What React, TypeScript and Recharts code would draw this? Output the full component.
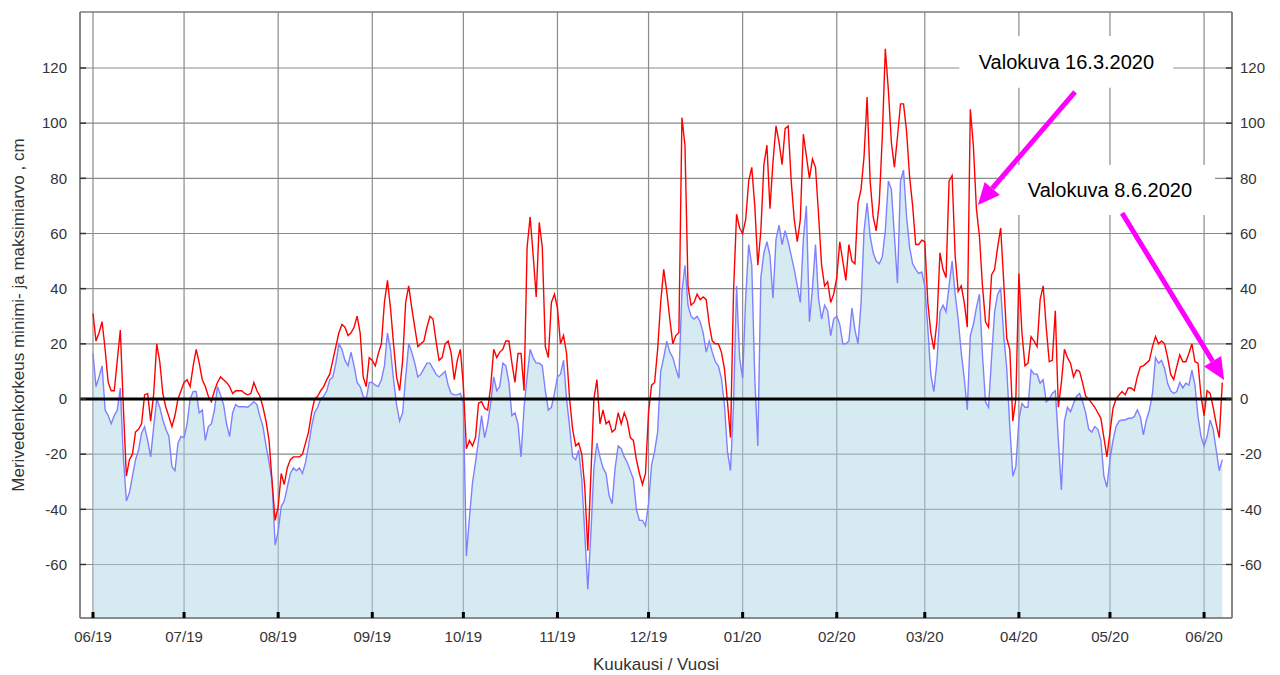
import React from 'react';
import {
  ComposedChart,
  Area,
  Line,
  XAxis,
  YAxis,
  CartesianGrid,
  ReferenceLine,
  ReferenceArea,
  Label,
} from 'recharts';

// Month ticks: day index counted from 1 June 2019
const monthTickDays = [0, 30, 61, 92, 122, 153, 183, 214, 245, 274, 305, 335, 366];
const monthTickLabels = ['06/19', '07/19', '08/19', '09/19', '10/19', '11/19', '12/19', '01/20', '02/20', '03/20', '04/20', '05/20', '06/20'];
const levelTicks = [-60, -40, -20, 0, 20, 40, 60, 80, 100, 120];

// Daily maximum sea level (cm), 1.6.2019 – 7.6.2020
const maxValues = [
  // June 2019
  31, 21, 24, 28, 18, 6, 3, 3, 14, 25, -3, -28, -22, -20, -12, -11, -9, 1.5, 2, -8, 2, 20, 13.5, 2, -3, -6.4, -10, -6, 0, 3,
  // July
  6, 7, 4.5, 12, 18, 13, 7, 4.5, 1, -1, 3, 6, 8, 7, 6, 4.5, 2, 3, 3, 3, 2, 1.5, 2, 6, 3, 1, -3, -8, -15, -30, -44,
  // August
  -39, -27, -31, -25, -22, -21, -21, -21, -20, -16, -12, -5, 0, 1, 3, 4.5, 7, 9, 14, 19, 24, 27, 26, 23, 24, 26, 30, 24, 8, 4.5, 15,
  // September
  14, 12, 16.5, 20, 35, 43, 33, 20, 8, 3, 14, 35, 41, 33, 26, 19, 20, 21, 26, 30, 29, 21, 14, 15, 20, 21, 16.5, 7, 14, 18,
  // October
  5, -18, -15, -17, -14, -1.5, -1, -3.4, -4, 4.5, 18, 15, 17, 18, 21, 21, 13, 6, 16.5, 16.5, 3, 55, 66, 52, 37, 64, 55, 19, 15, 35, 38,
  // November
  33, 20, 23, 16.5, 0, -11, -17, -16, -20, -32, -55, -28, 0, 7, -9, -4, -9, -8, -12, -11, -5, -9, -5, -8, -14, -15, -22, -27, -31, -27,
  // December
  -5, 5, 6, 18, 35, 47, 39, 29, 20, 23, 24, 102, 92, 41, 34, 35, 38, 36, 37, 36, 27, 21, 20, 20, 17, 11, -1, -14, 39, 67, 62,
  // January 2020
  60, 65, 79, 84, 70, 48.5, 61, 85, 92, 69, 86, 99, 93, 85, 98, 99, 79, 65, 57, 65, 96, 88, 80, 87, 84, 67, 48.5, 41, 42.5, 35, 38,
  // February
  44, 57, 50, 43, 56, 50, 49, 71, 76, 88, 109.5, 79, 66, 61, 71, 95, 127, 112, 93, 84, 95, 107, 107, 97, 80.5, 70, 56, 56, 57.6,
  // March
  57, 35, 24, 18, 28, 53, 47, 44, 79, 81, 52, 39, 41, 35, 26, 105, 92, 69, 59, 41, 28, 26, 45, 47, 55, 62, 42.5, 22, 18, -8, 0,
  // April
  45.5, 24, 12, 13, 22.6, 21, 19, 36, 41, 26, 13.5, 14, 32, -3, 6, 18, 15, 13, 8, 10.5, 10, 5.7, 1, 0, -1.5, -3, -5, -7, -14, -21,
  // May
  -12, -3.4, 0, 1.5, 2.7, 1.5, 4, 4, 3, 8, 11.7, 12, 13, 14, 19, 22.6, 20, 21, 20, 15, 9, 7, 11.7, 16, 13.5, 13.5, 16.5, 20, 13.5, 13, 1,
  // June 2020
  -6, 3, 2, -3, -9, -14, 6,
];

// Daily minimum sea level (cm)
const minValues = [
  // June 2019
  16.5, 4.5, 8, 12, -4, -6, -9, -6, -4, 4, -21, -37, -34, -28, -22, -18.5, -12.4, -10, -15, -21, -10, 0, -3, -7.6, -11, -13.5, -24.5, -26, -16, -13.6,
  // July
  -14, -9, 0, 2.7, 2.7, -5, -4, -15, -10, -9, -4, 4.5, 1.5, -2, -9, -13.6, -5, -2, -2.8, -2.8, -2.8, -3, -2, -1, -2, -6.4, -10, -17, -23, -30, -53,
  // August
  -48, -39, -37, -32, -27, -25, -26, -25, -27, -23, -17, -10, -5, -3, 0, 1, 3, 7, 8, 13, 20, 18, 14, 12, 17, 12, 6, 4.5, 1, 0, 6,
  // September
  6, 5, 4.5, 7, 12, 24, 18, 7, -2, -8, -5, 8, 20, 17, 13, 8, 9, 11, 13, 13, 11, 9, 8, 9, 10, 5, 2, 1.5, 1.5, 2,
  // October
  -1.5, -57, -43, -30.5, -23, -15, -6, -14, -9, -1.5, 8, 3, 4.5, 13, 12, 6, -6, -5, -9, -21, -3, 8, 18, 15, 13, 13, 12, 3, -4, -3, 2,
  // November
  8, 9, 14, 0, -10, -21, -22, -18.5, -29, -49, -69, -49, -25, -16, -21, -25, -27, -35, -38, -25, -17, -18, -21, -23, -26, -29, -40, -44, -44, -46,
  // December
  -38, -24, -19, -12, 10, 15, 21, 17, 15, 11, 7.5, 39, 48.5, 34, 30, 29, 30, 28, 24, 17, 21, 17, 13.5, 12, 7.5, -2, -19, -26, -2, 41, 15,
  // January 2020
  7.5, 36.5, 56, 48.5, 7.5, -17, 44, 53, 57, 52, 36.5, 58, 63, 56, 61, 57, 52, 47, 41, 35, 58, 70, 28, 40, 56, 36.5, 29, 34, 32, 23, 29,
  // February
  30, 27, 20, 20, 21, 33, 25, 20, 34.5, 61, 71, 59, 53, 50, 49, 51.5, 61, 79, 76, 59, 42, 79, 83, 66, 55, 49, 47, 45.5, 46,
  // March
  41, 25.6, 8.7, 2.7, 13.5, 31.6, 34, 31.6, 41, 50, 38, 29, 17, 7.5, -4, 23, 27, 33, 38, 16, -1, -3, 15, 31.6, 38, 40, 23, 11, -10, -28, -24.5,
  // April
  -7.6, -1.6, -3, -3, 10.5, 9, 9, 5.7, 7, -1, 0, 2, 3, -15, -33, -8, -3, -4.6, -1.6, 1, 2, -1, -5, -11, -12, -10, -11, -15, -28, -32,
  // May
  -22, -15, -10, -8, -7.6, -7.6, -7, -7, -6.4, -4, -6.4, -13, -7.6, -4, 2, 15, 13, 14, 11, 5.7, 3, 2, 2.7, 6, 4, 5.7, 5, 10.5, 5, -6.4, -13.6,
  // June 2020
  -17, -13.6, -7.6, -11, -18.5, -26, -22,
];

const annotationTexts = ['Valokuva 16.3.2020', 'Valokuva 8.6.2020'];

const data = maxValues.map((mx, i) => ({ day: i, max: mx, min: minValues[i] }));

const X_MIN = -4.28;
const X_MAX = 375.2;
const Y_MIN = -79.4;
const Y_MAX = 140.3;

const FONT = 'Liberation Sans, Arial, sans-serif';
const MAGENTA = '#ff00ff';

const ArrowShape = (props: any) => {
  const { x1, y1, x2, y2 } = props;
  if ([x1, y1, x2, y2].some((v) => typeof v !== 'number' || isNaN(v))) return null;
  const angle = Math.atan2(y2 - y1, x2 - x1);
  const headLen = 22;
  const headW = 10;
  const bx = x2 - headLen * Math.cos(angle);
  const by = y2 - headLen * Math.sin(angle);
  const px = -Math.sin(angle) * headW;
  const py = Math.cos(angle) * headW;
  return (
    <g>
      <line x1={x1} y1={y1} x2={bx} y2={by} stroke={MAGENTA} strokeWidth={5} />
      <polygon points={`${x2},${y2} ${bx + px},${by + py} ${bx - px},${by - py}`} fill={MAGENTA} />
    </g>
  );
};

const monthLabel = (v: number) => {
  const idx = monthTickDays.indexOf(v);
  return idx >= 0 ? monthTickLabels[idx] : '';
};

const YTitle = () => {
  const cx = 18;
  const cy = 12 + 606 / 2;
  return (
    <text
      x={cx}
      y={cy}
      transform={`rotate(-90, ${cx}, ${cy})`}
      textAnchor="middle"
      dominantBaseline="central"
      fill="#333"
      fontSize={17}
      fontFamily={FONT}
    >
      Merivedenkorkeus minimi- ja maksimiarvo , cm
    </text>
  );
};

export default function App() {
  return (
    <div style={{ position: 'absolute', left: 0, top: 0, width: 1280, height: 675, background: '#fff' }}>
      <ComposedChart
        width={1280}
        height={675}
        data={data}
        margin={{ top: 12, right: 0, bottom: 0, left: 0 }}
      >
        <CartesianGrid stroke="#8a8a8a" strokeWidth={1.2} />
        <XAxis
          dataKey="day"
          type="number"
          domain={[X_MIN, X_MAX]}
          ticks={monthTickDays}
          tickFormatter={monthLabel}
          height={57}
          axisLine={{ stroke: '#777' }}
          tickLine={{ stroke: '#000', strokeWidth: 3 }}
          tickSize={-6}
          tickMargin={19}
          tick={{ fill: '#333', fontSize: 15, fontFamily: FONT }}
          allowDataOverflow
        >
          <Label value="Kuukausi / Vuosi" position="insideBottom" offset={5} fill="#333" fontSize={17} fontFamily={FONT} />
        </XAxis>
        <YAxis
          type="number"
          domain={[Y_MIN, Y_MAX]}
          ticks={levelTicks}
          width={80}
          axisLine={{ stroke: '#777' }}
          tickLine={{ stroke: '#333', strokeWidth: 1.5 }}
          tickSize={-6}
          tickMargin={19}
          tick={{ fill: '#333', fontSize: 15, fontFamily: FONT }}
          allowDataOverflow
        >
          <Label content={<YTitle />} />
        </YAxis>
        <YAxis
          yAxisId="right"
          orientation="right"
          type="number"
          domain={[Y_MIN, Y_MAX]}
          ticks={levelTicks}
          width={48}
          axisLine={{ stroke: '#777' }}
          tickLine={{ stroke: '#333', strokeWidth: 1.5 }}
          tickSize={-6}
          tickMargin={14}
          tick={{ fill: '#333', fontSize: 15, fontFamily: FONT }}
          allowDataOverflow
        />
        <Area
          type="linear"
          dataKey="min"
          stroke="#8080ff"
          strokeWidth={1.4}
          fill="#add5e5"
          fillOpacity={0.5}
          baseValue={Y_MIN}
          dot={false}
          activeDot={false}
          isAnimationActive={false}
        />
        <Line
          type="linear"
          dataKey="max"
          stroke="#ff0000"
          strokeWidth={1.4}
          dot={false}
          activeDot={false}
          isAnimationActive={false}
        />
        <ReferenceLine y={0} stroke="#000" strokeWidth={3} />
        <ReferenceArea
          x1={X_MIN}
          x2={X_MAX}
          y1={Y_MIN}
          y2={Y_MAX}
          fill="none"
          stroke="#777"
          strokeWidth={1}
        />
        <ReferenceArea
          x1={285.4}
          x2={355.9}
          y1={112.8}
          y2={131.6}
          fill="#fff"
          fillOpacity={1}
          stroke="none"
          label={{ value: annotationTexts[0], position: 'center', fill: '#000', fontSize: 20, fontFamily: FONT }}
        />
        <ReferenceArea
          x1={300.4}
          x2={369.6}
          y1={66.7}
          y2={84.8}
          fill="#fff"
          fillOpacity={1}
          stroke="none"
          label={{ value: annotationTexts[1], position: 'center', fill: '#000', fontSize: 20, fontFamily: FONT }}
        />
        <ReferenceLine
          segment={[{ x: 323.5, y: 111.3 }, { x: 291.5, y: 70.3 }]}
          shape={ArrowShape}
          ifOverflow="visible"
        />
        <ReferenceLine
          segment={[{ x: 339, y: 67.4 }, { x: 372.6, y: 6.9 }]}
          shape={ArrowShape}
          ifOverflow="visible"
        />
      </ComposedChart>
    </div>
  );
}
